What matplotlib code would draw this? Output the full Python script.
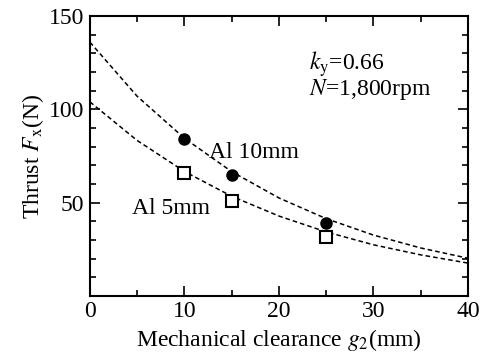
import numpy as np
import matplotlib
matplotlib.use("Agg")
import matplotlib.pyplot as plt
from matplotlib.ticker import MultipleLocator

plt.rcParams['font.family'] = ['Liberation Serif', 'DejaVu Serif']
plt.rcParams['mathtext.fontset'] = 'stix'

#------------------------------------------------------------------------------
# Measured points
gap = [10, 15, 25]
thrust_al10 = [84, 65, 39]
thrust_al5 = [66, 51, 31.5]

curve_gap = [0, 5, 10, 15, 20, 25, 30, 35, 40]
curve_al10 = [136, 107, 84.5, 66.6, 52.5, 41.4, 32.6, 25.7, 20.2]
curve_al5 = [104, 83.3, 66.7, 53.4, 42.8, 34.3, 27.4, 22.0, 17.6]

#------------------------------------------------------------------------------
fig = plt.figure(figsize=(4.83, 3.54), dpi=100)
ax = fig.add_axes([0.186, 0.164, 0.783, 0.791])

ax.plot(curve_gap, curve_al10, color='black', linestyle=(0, (3, 2)), linewidth=1.1)
ax.plot(curve_gap, curve_al5, color='black', linestyle=(0, (3, 2)), linewidth=1.1)

ax.plot(gap, thrust_al10, 'o', color='black', markersize=8, linestyle='none')
ax.plot(gap, thrust_al5, 's', markerfacecolor='white', markeredgecolor='black',
        markeredgewidth=1.5, markersize=8, linestyle='none')

fs = 17
ax.text(12.6, 77, 'Al 10mm', fontsize=fs, va='center', ha='left')
ax.text(4.5, 47, 'Al 5mm', fontsize=fs, va='center', ha='left')
ax.text(23.2, 124, r'$k_{\mathrm{y}}$=0.66', fontsize=fs, va='center', ha='left')
ax.text(23.2, 110.5, r'$N$=1,800rpm', fontsize=fs, va='center', ha='left')

ax.set_xlim(0, 40)
ax.set_ylim(0, 150)
ax.xaxis.set_major_locator(MultipleLocator(10))
ax.xaxis.set_minor_locator(MultipleLocator(5))
ax.yaxis.set_major_locator(MultipleLocator(50))
ax.yaxis.set_minor_locator(MultipleLocator(10))
ax.tick_params(which='both', direction='in', top=True, right=True, labelsize=fs, width=1.2)
ax.tick_params(which='major', length=7, pad=4)
ax.tick_params(which='minor', length=4)
ax.set_yticks([50, 100, 150])

for s in ax.spines.values():
    s.set_linewidth(1.5)

ax.set_xlabel(r'Mechanical clearance $g_2$(mm)', fontsize=fs, labelpad=3)
ax.set_ylabel(r'Thrust $F_{\mathrm{x}}$(N)', fontsize=fs, labelpad=2)

fig.savefig('out.png', dpi=100)
